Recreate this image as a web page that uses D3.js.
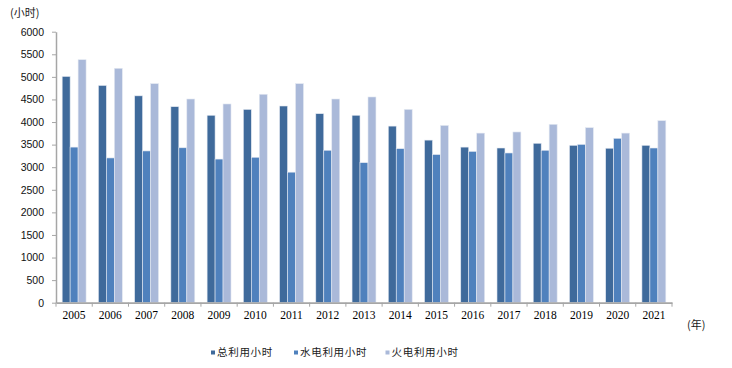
<!DOCTYPE html>
<html><head><meta charset="utf-8">
<script src="https://cdn.jsdelivr.net/npm/d3@7"></script>
<style>body{margin:0;background:#fff;} svg{display:block;}</style>
</head><body>
<svg id="chart" width="732" height="368"></svg>
<script>
const years = ["2005","2006","2007","2008","2009","2010","2011","2012","2013","2014","2015","2016","2017","2018","2019","2020","2021"];
const totalHours = [5010,4810,4580,4340,4150,4280,4355,4185,4150,3910,3600,3445,3425,3530,3485,3420,3485];
const hydroHours = [3445,3205,3360,3430,3180,3220,2890,3375,3100,3410,3280,3350,3315,3375,3505,3640,3425];
const thermalHours = [5380,5190,4850,4510,4400,4615,4850,4510,4555,4280,3925,3755,3780,3950,3875,3755,4030];
const seriesNames = ["总利用小时","水电利用小时","火电利用小时"];
const yTicks = [0,500,1000,1500,2000,2500,3000,3500,4000,4500,5000,5500,6000];
const colors = ["#3f6a9b","#4f81bd","#aab9d9"];

(function(){
const svg = d3.select("#chart");
const pLeft = 56, pRight = 672, pTop = 31.7, pBottom = 302.7;
const x = d3.scaleBand().domain(years).range([pLeft, pRight]).paddingInner(0.34).paddingOuter(0.17);
const x1 = d3.scaleBand().domain([0,1,2]).range([0, x.bandwidth()]);
const y = d3.scaleLinear().domain([0,6000]).range([pBottom, pTop]);
const seriesData = [totalHours, hydroHours, thermalHours];

seriesData.forEach((vals, si) => {
  svg.append("g").selectAll("rect").data(vals).join("rect")
    .attr("x", (d,i) => x(years[i]) + x1(si))
    .attr("y", d => y(d))
    .attr("width", x1.bandwidth())
    .attr("height", d => pBottom - y(d))
    .attr("fill", colors[si])
    .attr("stroke", "#e4e9f2").attr("stroke-width", 0.6);
});

const yAxis = svg.append("g").attr("transform", `translate(${pLeft},0)`)
  .call(d3.axisLeft(y).tickValues(yTicks).tickSize(4).tickSizeOuter(0).tickFormat(d3.format("d")));
yAxis.select(".domain").attr("stroke", "#a6a6a6").attr("stroke-width", 1.5);
yAxis.selectAll(".tick line").attr("stroke", "#a6a6a6");
yAxis.selectAll("text").attr("x", -12).attr("fill", "#111")
  .style("font-family", "Liberation Sans, Arial, sans-serif").style("font-size", "10.5px");

const xAxis = svg.append("g").attr("transform", `translate(0,${pBottom})`)
  .call(d3.axisBottom(x).tickSize(0).tickSizeOuter(0));
xAxis.select(".domain").attr("stroke", "#a6a6a6").attr("stroke-width", 1.8);
xAxis.selectAll("text").attr("y", 12.5).attr("dy", "0.35em").attr("fill", "#000")
  .style("font-family", "Liberation Serif, Times New Roman, serif").style("font-size", "11.5px");
const seps = d3.range(years.length + 1).map(i => pLeft + i * (pRight - pLeft) / years.length);
svg.append("g").selectAll("line").data(seps).join("line")
  .attr("x1", d => d).attr("x2", d => d)
  .attr("y1", pBottom).attr("y2", pBottom + 4)
  .attr("stroke", "#a6a6a6").attr("stroke-width", 1);

svg.append("text").attr("x", 10).attr("y", 13.5).attr("dy", "0.35em")
  .style("font-family", "Noto Sans CJK SC, sans-serif").style("font-size", "11px").attr("fill", "#1a1a1a")
  .text("(小时)");
svg.append("text").attr("x", 687).attr("y", 325).attr("dy", "0.35em")
  .style("font-family", "Noto Sans CJK SC, sans-serif").style("font-size", "11px").attr("fill", "#1a1a1a")
  .text("(年)");

const legendX = [211, 294, 385.5];
const lg = svg.append("g");
seriesNames.forEach((name, i) => {
  lg.append("rect").attr("x", legendX[i]).attr("y", 350.5).attr("width", 4).attr("height", 4).attr("fill", colors[i]);
  lg.append("text").attr("x", legendX[i] + 6).attr("y", 352.5).attr("dy", "0.35em")
    .style("font-family", "Noto Sans CJK SC, sans-serif").style("font-size", "10.5px")
    .style("letter-spacing", "0.7px").attr("fill", "#1a1a1a").text(name);
});
})();
</script>
</body></html>
